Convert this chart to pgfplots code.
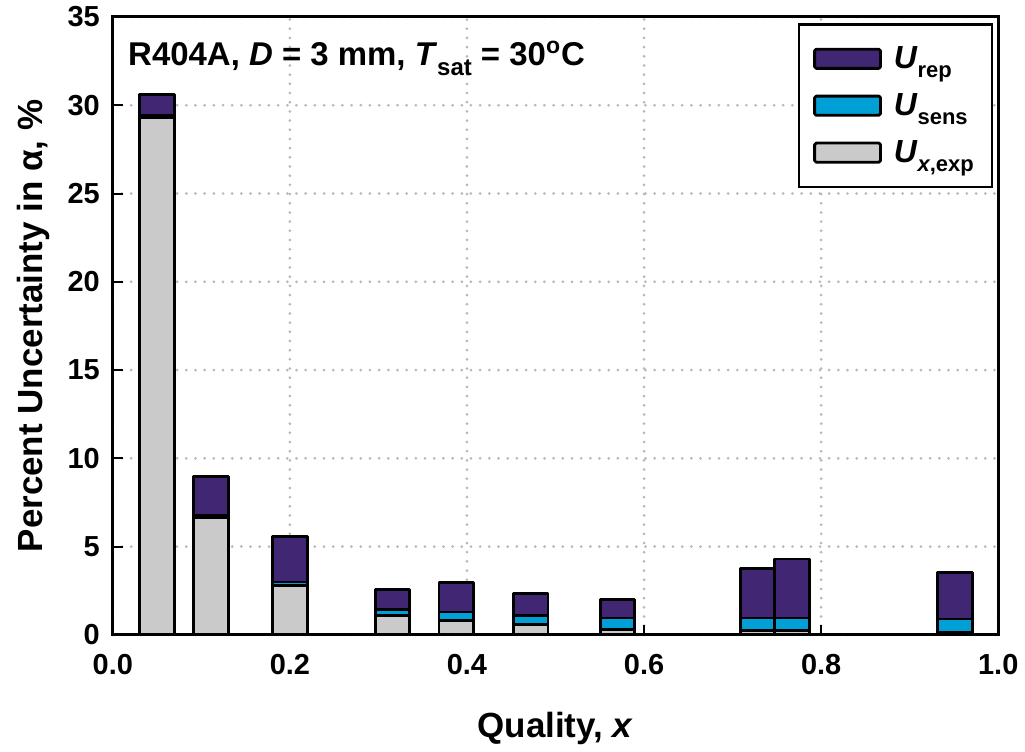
\documentclass[border=0pt]{standalone}
\usepackage{pgfplots}
\pgfplotsset{compat=1.18}
\usepackage{fontspec}
\setmainfont{Liberation Sans}

\definecolor{urep}{RGB}{65,38,115}
\definecolor{usens}{RGB}{0,160,214}
\definecolor{uxexp}{RGB}{202,202,202}

\newcommand{\sub}[2][11]{\raisebox{-0.55ex}{\fontsize{#1}{12}\selectfont #2}}

\begin{document}
\begin{tikzpicture}
\begin{axis}[
  name=ax,
  scale only axis,
  width=443.5pt, height=309.5pt,
  xmin=0, xmax=1, ymin=0, ymax=35,
  enlargelimits=false,
  ybar stacked,
  bar width=0.039,
  xtick={0,0.2,0.4,0.6,0.8,1.0},
  ytick={0,5,10,15,20,25,30,35},
  /pgf/number format/assume math mode=true,
  tick label style={font=\fontsize{14.5}{16}\selectfont\bfseries},
  xticklabel style={yshift=-6pt, /pgf/number format/.cd, fixed, fixed zerofill, precision=1},
  yticklabel style={xshift=-3pt},
  tick align=inside,
  xtick pos=bottom, ytick pos=left,
  major tick length=5pt,
  tick style={black, line width=1pt},
  axis line style={line width=1.5pt},
  grid=major,
  major grid style={black!28, line width=1.5pt, line cap=round, dash pattern=on 0pt off 4.6pt},
  xlabel={Quality, \textit{x}},
  ylabel={Percent Uncertainty in α, \%},
  label style={font=\fontsize{17.5}{19}\selectfont\bfseries},
  xlabel style={yshift=-12pt},
  ylabel style={yshift=2pt},
  every axis plot/.append style={draw=black, line width=1.4pt, line join=round},
  reverse legend,
  legend style={at={(0.994,0.99)}, anchor=north east, draw=black, line width=1.2pt,
    font=\fontsize{16}{18}\selectfont\bfseries, inner xsep=7pt, inner ysep=9pt,
    row sep=7pt, cells={anchor=west},
    /tikz/every odd column/.append style={column sep=4pt}},
  legend image code/.code={\draw[#1, rounded corners=0.8pt] (0pt,-4.8pt) rectangle (33pt,4.8pt);},
]
\addplot[fill=uxexp] coordinates {
  (0.050,29.3) (0.111,6.65) (0.200,2.8) (0.316,1.1) (0.388,0.8)
  (0.472,0.6) (0.570,0.3) (0.728,0.25) (0.767,0.25) (0.951,0.15)};
\addlegendentry{\textit{U}\sub[11]{\textit{x},exp}}
\addplot[fill=usens] coordinates {
  (0.050,0.1) (0.111,0.1) (0.200,0.2) (0.316,0.35) (0.388,0.5)
  (0.472,0.5) (0.570,0.65) (0.728,0.7) (0.767,0.7) (0.951,0.75)};
\addlegendentry{\textit{U}\sub[11]{sens}}
\addplot[fill=urep] coordinates {
  (0.050,1.2) (0.111,2.2) (0.200,2.55) (0.316,1.1) (0.388,1.65)
  (0.472,1.25) (0.570,1.05) (0.728,2.8) (0.767,3.35) (0.951,2.65)};
\addlegendentry{\textit{U}\sub[11]{rep}}
\node[anchor=north west, font=\fontsize{16.5}{18}\selectfont\bfseries, inner sep=0pt]
  at (rel axis cs:0.017,0.962)
  {R404A, \textit{D} = 3 mm, \textit{T}\sub[12]{sat} = 30\textsuperscript{o}C};
\end{axis}
\path (ax.south west) ++(-56.5pt,-56.5pt) (ax.north east) ++(12.5pt,8.5pt);
\end{tikzpicture}
\end{document}
